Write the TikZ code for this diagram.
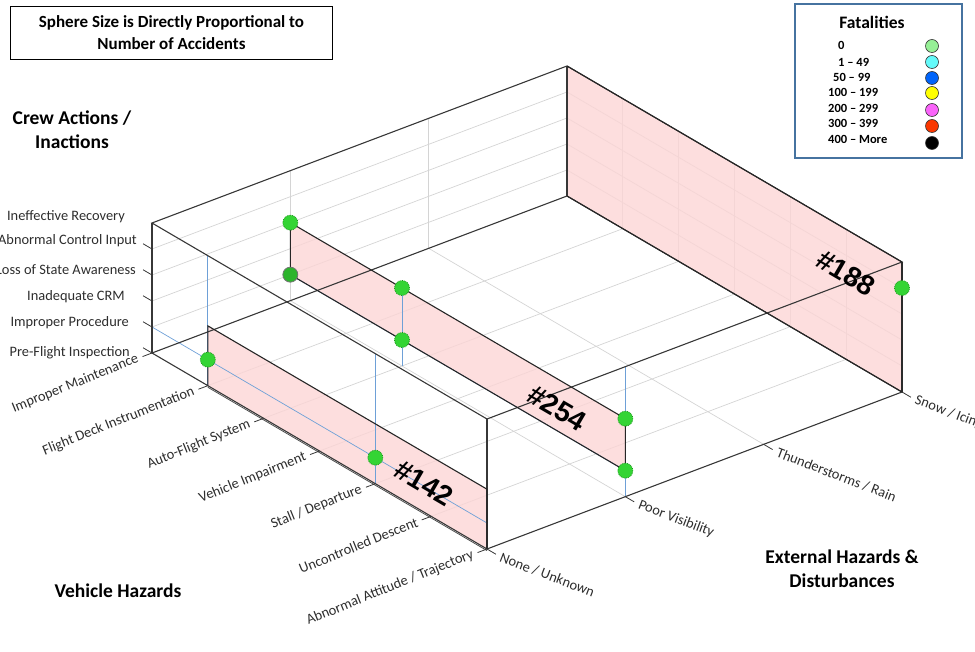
\documentclass[tikz,border=0pt]{standalone}
\usepackage{fontspec}
\setmainfont{Carlito}
\newfontfamily\arialfont{Liberation Sans}
\usetikzlibrary{calc}

\definecolor{gridgray}{RGB}{212,212,212}
\definecolor{edgegray}{RGB}{55,55,55}
\definecolor{dropblue}{RGB}{110,160,215}
\definecolor{panelpink}{RGB}{252,214,214}
\definecolor{ballgreen}{RGB}{52,212,52}
\definecolor{ballrim}{RGB}{28,150,28}
\definecolor{legendblue}{RGB}{70,115,160}
\definecolor{labelgray}{RGB}{45,45,45}
\definecolor{fzero}{RGB}{150,240,150}
\definecolor{fone}{RGB}{100,250,250}
\definecolor{ftwo}{RGB}{0,100,250}
\definecolor{fthree}{RGB}{255,255,0}
\definecolor{ffour}{RGB}{250,100,250}
\definecolor{ffive}{RGB}{250,55,0}

\tikzset{
  gridline/.style={draw=gridgray, line width=0.7pt},
  boxedge/.style={draw=edgegray, line width=1.1pt},
  tickmark/.style={draw=edgegray, line width=0.8pt},
  dropline/.style={draw=dropblue, line width=0.7pt},
  panel/.style={fill=panelpink, fill opacity=0.8},
  paneledge/.style={draw=black!85, line width=1.1pt},
  ball/.style={circle, minimum size=15pt, inner sep=0pt, fill=ballgreen, draw=ballrim, densely dotted, line width=0.8pt},
  catlabel/.style={inner sep=0pt, text=labelgray, font=\fontsize{14.4}{16}\selectfont},
  axistitle/.style={inner sep=0pt, align=center, font=\bfseries\fontsize{19.5}{24}\selectfont},
  bignum/.style={inner sep=0pt, rotate=-30.3, font=\arialfont\bfseries\fontsize{28}{28}\selectfont},
  legitem/.style={inner sep=0pt, anchor=west, font=\bfseries\fontsize{12.5}{14}\selectfont},
  legdot/.style={circle, minimum size=13pt, inner sep=0pt, draw=black!80, line width=0.6pt},
}

\begin{document}
\begin{tikzpicture}[x=1pt, y=-1pt]
\useasboundingbox (0,0) rectangle (975,652);

% oblique 3-D frame: x = vehicle hazards, y = external hazards, z = crew actions
\begin{scope}[shift={(152pt,-353pt)}, x={(55.833pt,-32.667pt)}, y={(138.333pt,52.333pt)}, z={(0pt,26pt)}]
  % grid on the two back walls and the floor
  \foreach \k in {1,...,4} {
    \draw[gridline] (0,0,\k) -- (0,3,\k);
    \draw[gridline] (0,3,\k) -- (6,3,\k);
  }
  \foreach \k in {1,2} {
    \draw[gridline] (0,\k,0) -- (0,\k,5);
    \draw[gridline] (0,\k,0) -- (6,\k,0);
  }
  \foreach \k in {1,...,5} {
    \draw[gridline] (\k,3,0) -- (\k,3,5);
    \draw[gridline] (\k,0,0) -- (\k,3,0);
  }

  % highlighted bands
  \fill[panel] (0,3,0) -- (6,3,0) -- (6,3,5) -- (0,3,5) -- cycle;
  \fill[panel] (0,1,1) -- (6,1,1) -- (6,1,3) -- (0,1,3) -- cycle;
  \fill[panel] (1,0,0) -- (6,0,0) -- (6,0,2.3) -- (1,0,2.3) -- cycle;

  % drop lines
  \draw[dropline] (0,0,1) -- (6,0,1);
  \draw[dropline] (1,0,5) -- (1,0,0);
  \draw[dropline] (4,0,5) -- (4,0,0);
  \draw[dropline] (0,1,1) -- (6,1,1);
  \draw[dropline] (2,1,3) -- (2,1,0);
  \draw[dropline] (6,1,5) -- (6,1,0);

  % box corners
  \coordinate (b00) at (0,0,0); \coordinate (b60) at (6,0,0);
  \coordinate (b63) at (6,3,0); \coordinate (b03) at (0,3,0);
  \coordinate (t00) at (0,0,5); \coordinate (t60) at (6,0,5);
  \coordinate (t63) at (6,3,5); \coordinate (t03) at (0,3,5);
  \draw[boxedge] (b00) -- (b60) -- (b63) -- (b03) -- cycle;
  \draw[boxedge] (t00) -- (t60) -- (t63) -- (t03) -- cycle;
  \draw[boxedge] (b00) -- (t00);
  \draw[boxedge] (b60) -- (t60);
  \draw[boxedge] (b63) -- (t63);
  \draw[boxedge] (b03) -- (t03);

  % band outlines
  \draw[paneledge] (0,3,0) -- (6,3,0) -- (6,3,5) -- (0,3,5);
  \draw[paneledge] (0,1,1) -- (6,1,1) -- (6,1,3) -- (0,1,3) -- cycle;
  \draw[paneledge] (1,0,0) -- (1,0,2.3) -- (6,0,2.3) -- (6,0,0);
  \draw[draw=black!70, line width=0.8pt] ([yshift=-1.6pt]1,0,0) -- ([yshift=-1.6pt]6,0,0);

  % tick marks
  \foreach \k in {0,...,6} \draw[tickmark] (\k,0,0) -- ++(0,-0.068,0);
  \foreach \k in {0,...,4} \draw[tickmark] (0,0,\k) -- ++(-0.16,0,0);
  \foreach \k in {0,...,3} \draw[tickmark] (6,\k,0) -- ++(0.16,0,0);

  % category labels along the two floor axes
  \foreach \k/\txt in {0/{Improper Maintenance}, 1/{Flight Deck Instrumentation},
      2/{Auto-Flight System}, 3/{Vehicle Impairment}, 4/{Stall / Departure},
      5/{Uncontrolled Descent}, 6/{Abnormal Attitude / Trajectory}}
    \node[catlabel, rotate=22, anchor=east] (vh\k) at (\k,-0.1,0) {\txt};
  \foreach \k/\txt in {0/{None / Unknown}, 1/{Poor Visibility},
      2/{Thunderstorms / Rain}, 3/{Snow / Icing}}
    \node[catlabel, rotate=-21, anchor=west] (eh\k) at (6.24,\k,0) {\txt};

  % accident spheres
  \node[ball] (s1) at (1,0,1) {};
  \node[ball] (s2) at (4,0,1) {};
  \node[ball] (s3) at (0,1,3) {};
  \node[ball, fill=ballgreen!85!black, draw=black!55, solid] (s4) at (0,1,1) {};
  \node[ball] (s5) at (2,1,3) {};
  \node[ball] (s6) at (2,1,1) {};
  \node[ball] (s7) at (6,1,3) {};
  \node[ball] (s8) at (6,1,1) {};
  \node[ball] (s9) at (6,3,4) {};
\end{scope}

% crew action labels on the vertical axis
\node[catlabel, anchor=east] (ca5) at (125,217) {Ineffective Recovery};
\node[catlabel, anchor=east] (ca4) at (137,241) {Abnormal Control Input};
\node[catlabel, anchor=east] (ca3) at (136,270) {Loss of State Awareness};
\node[catlabel, anchor=east] (ca2) at (125,297) {Inadequate CRM};
\node[catlabel, anchor=east] (ca1) at (129,323) {Improper Procedure};
\node[catlabel, anchor=east] (ca0) at (130,353) {Pre-Flight Inspection};

% band numbers
\node[bignum] (n142) at (424,483) {\#142};
\node[bignum] (n254) at (557,408) {\#254};
\node[bignum] (n188) at (846,273) {\#188};

% axis titles
\node[axistitle] (crew) at (72,130) {Crew Actions /\\Inactions};
\node[axistitle] (veh) at (118,591) {Vehicle Hazards};
\node[axistitle] (ext) at (842,569) {External Hazards \&\\Disturbances};

% caption box
\node[draw=black, line width=1.4pt, minimum width=322pt, minimum height=53pt, inner sep=0pt,
      align=center, font=\bfseries\fontsize{17}{22}\selectfont] (cap) at (171.5,33)
  {Sphere Size is Directly Proportional to\\Number of Accidents};

% fatalities legend
\draw[draw=legendblue, line width=1.4pt] (795,4) rectangle (962,158);
\node[inner sep=0pt, font=\bfseries\fontsize{17.5}{20}\selectfont] (legt) at (872,22) {Fatalities};
\node[legitem] (l0) at (838,45) {0};
\node[legitem] (l1) at (838,62) {1 -- 49};
\node[legitem] (l2) at (833,77) {50 -- 99};
\node[legitem] (l3) at (828,92) {100 -- 199};
\node[legitem] (l4) at (828,108) {200 -- 299};
\node[legitem] (l5) at (828,123) {300 -- 399};
\node[legitem] (l6) at (828,139) {400 -- More};
\node[legdot, fill=fzero] (d0) at (932,46) {};
\node[legdot, fill=fone] (d1) at (932,62) {};
\node[legdot, fill=ftwo] (d2) at (932,78) {};
\node[legdot, fill=fthree] (d3) at (932,93) {};
\node[legdot, fill=ffour] (d4) at (932,110) {};
\node[legdot, fill=ffive] (d5) at (932,126) {};
\node[legdot, fill=black] (d6) at (932,143) {};
\end{tikzpicture}
\end{document}
